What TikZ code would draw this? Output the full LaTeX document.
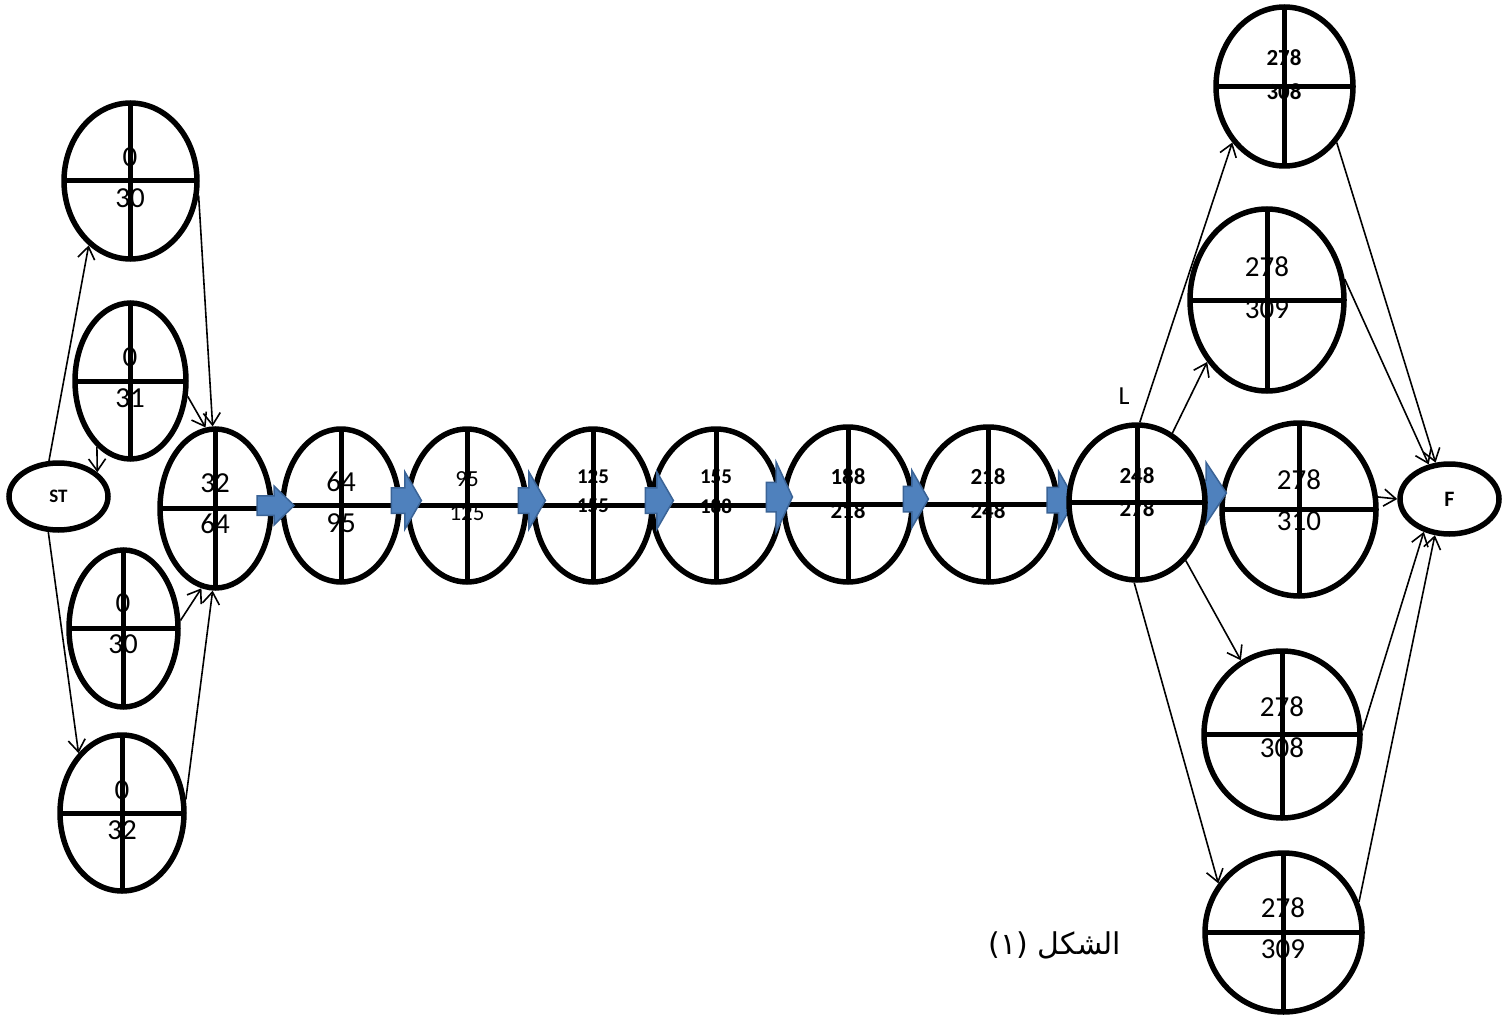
\documentclass[tikz,border=0pt]{standalone}
\usepackage{fontspec}
\setmainfont{Carlito}
\newfontfamily\arabicfont[Script=Arabic]{DejaVu Sans}
\TeXXeTstate=1
\usetikzlibrary{shapes.geometric,shapes.arrows,arrows.meta}
\definecolor{arrowblue}{HTML}{4F81BD}
\definecolor{arrowedge}{HTML}{3A6396}
\tikzset{
  ev/.style={ellipse,draw,fill=white,line width=5.5pt,inner sep=0pt,
    path picture={\draw[line width=5pt] (path picture bounding box.north)--(path picture bounding box.south)
      (path picture bounding box.west)--(path picture bounding box.east);}},
  endnode/.style={ellipse,draw,fill=white,line width=5.5pt,inner sep=0pt},
  num/.style={inner sep=0pt,font=\fontsize{29}{29}\selectfont},
  numsm/.style={inner sep=0pt,font=\fontsize{23}{23}\selectfont},
  numb/.style={inner sep=0pt,font=\bfseries\fontsize{23}{23}\selectfont},
  numbs/.style={inner sep=0pt,font=\bfseries\fontsize{21}{21}\selectfont},
  link/.style={line width=1.6pt,-{Straight Barb[length=12pt,width=17pt]}},
  blk/.style={single arrow,draw=arrowedge,fill=arrowblue,line width=1.5pt,inner xsep=0pt,inner ysep=12pt,
    minimum width=56pt,minimum height=28pt,single arrow head extend=16pt,
    single arrow tip angle=120,anchor=tip},
}
\begin{document}
\begin{tikzpicture}[x=1pt,y=-1pt]
\useasboundingbox (0,0) rectangle (1509,1016);
% start and the first column
\node[endnode,minimum width=99,minimum height=67,font=\bfseries\fontsize{19}{19}\selectfont] (st) at (58.5,496.5) {ST};
\node[ev,minimum width=133,minimum height=156] (a1) at (130.5,181) {};
\node[ev,minimum width=111,minimum height=156] (a2) at (130.5,381) {};
\node[ev,minimum width=109,minimum height=157] (a3) at (123.5,628.5) {};
\node[ev,minimum width=124,minimum height=156] (a4) at (122,813) {};
\node[num] (a1u) at (130,157) {0};
\node[num] (a1d) at (130,198) {30};
\node[num] (a2u) at (130,357) {0};
\node[num] (a2d) at (130,398) {31};
\node[num] (a3u) at (123,603) {0};
\node[num] (a3d) at (123,644) {30};
\node[num] (a4u) at (122,790) {0};
\node[num] (a4d) at (122,830) {32};
% the chain
\node[ev,minimum width=111,minimum height=159] (b1) at (215.5,508.5) {};
\node[ev,minimum width=116,minimum height=153] (b2) at (341,505.5) {};
\node[ev,minimum width=118,minimum height=153] (b3) at (467,505.5) {};
\node[ev,minimum width=118,minimum height=153] (b4) at (593,505.5) {};
\node[ev,minimum width=128,minimum height=153] (b5) at (716,505.5) {};
\node[ev,minimum width=128,minimum height=155] (b6) at (848,504.5) {};
\node[ev,minimum width=137,minimum height=155] (b7) at (988.5,504.5) {};
\node[ev,minimum width=154,minimum height=173] (b9) at (1299,509.5) {};
\node[blk,inner ysep=9pt,minimum width=37,minimum height=37,single arrow head extend=9.5pt,single arrow tip angle=88] (k12) at ([xshift=15pt]b2.west) {};
\node[blk,minimum height=30] (k23) at ([xshift=17pt,yshift=5pt]b3.west) {};
\node[blk,minimum height=27] (k34) at ([xshift=15pt,yshift=5pt]b4.west) {};
\node[blk] (k45) at ([xshift=25pt,yshift=5pt]b5.west) {};
\node[blk,inner ysep=14pt,minimum width=68,minimum height=26,single arrow head extend=20pt,single arrow tip angle=130] (k56) at ([xshift=12pt,yshift=7.5pt]b6.west) {};
\node[blk,minimum height=25] (k67) at ([xshift=12pt,yshift=5.5pt]b7.west) {};
\node[blk] (k7l) at (1076,500) {};
\node[blk,minimum width=60,minimum height=40,single arrow head extend=18pt,single arrow tip angle=113] (kl9) at ([xshift=8pt,yshift=16.5pt]b9.west) {};
\node[ev,minimum width=136,minimum height=155] (l) at (1137,502.5) {};
\node[num] (b1u) at (215,483) {32};
\node[num] (b1d) at (215,524) {64};
\node[num] (b2u) at (341,482) {64};
\node[num] (b2d) at (341,523) {95};
\node[numsm] (b3u) at (467,479) {95};
\node[numsm] (b3d) at (467,513) {125};
\node[numbs] (b4u) at (593,477) {125};
\node[numbs] (b4d) at (593,506) {155};
\node[numbs] (b5u) at (716,477) {155};
\node[numbs] (b5d) at (716,506) {188};
\node[numb] (b6u) at (848,477) {188};
\node[numb] (b6d) at (848,511) {218};
\node[numb] (b7u) at (988,477) {218};
\node[numb] (b7d) at (988,511) {248};
\node[numb] (lu) at (1137,476) {248};
\node[numb] (ld) at (1137,509) {278};
\node[num] (b9u) at (1299,480) {278};
\node[num] (b9d) at (1299,521) {310};
\node[inner sep=0pt,font=\fontsize{26}{26}\selectfont] (lname) at (1124,396) {L};
% last column and finish
\node[ev,minimum width=137,minimum height=159] (c1) at (1284.5,86.5) {};
\node[ev,minimum width=154,minimum height=182] (c2) at (1267,300) {};
\node[ev,minimum width=156,minimum height=167] (c3) at (1282,734.5) {};
\node[ev,minimum width=157,minimum height=159] (c4) at (1283.5,932.5) {};
\node[endnode,minimum width=99,minimum height=70,font=\bfseries\fontsize{22}{22}\selectfont] (f) at (1449.5,499) {F};
\node[numb] (c1u) at (1284,58) {278};
\node[numb] (c1d) at (1284,92) {308};
\node[num] (c2u) at (1267,267) {278};
\node[num] (c2d) at (1267,309) {309};
\node[num] (c3u) at (1282,707) {278};
\node[num] (c3d) at (1282,748) {308};
\node[num] (c4u) at (1283,908) {278};
\node[num] (c4d) at (1283,949) {309};
\node[inner sep=0pt,font=\arabicfont\fontsize{30}{30}\selectfont] (cap) at (1055,945) {\beginR الشكل (١)\endR};
% links
\draw[link] (st.105) -- (a1.237);
\draw[link] (a2.243) -- (st.32);
\draw[link] (st.254) -- (a4.126);
\draw[link] (a1.348) -- (b1.92);
\draw[link] (a2.345) -- (b1.97);
\draw[link] (a3.8) -- (b1.260);
\draw[link] (a4.12) -- (b1.268);
\draw[link] (l.88) -- (c1.227);
\draw[link] (l.63) -- (c2.226);
\draw[link] (l.310) -- (c3.119);
\draw[link] (l.268) -- (c4.143);
\draw[link] (c1.313) -- (f.111);
\draw[link] (c2.15) -- (f.121);
\draw[link] (b9.9) -- (f.180);
\draw[link] (c3.3) -- (f.232);
\draw[link] (c4.22) -- (f.248);
\end{tikzpicture}
\end{document}
